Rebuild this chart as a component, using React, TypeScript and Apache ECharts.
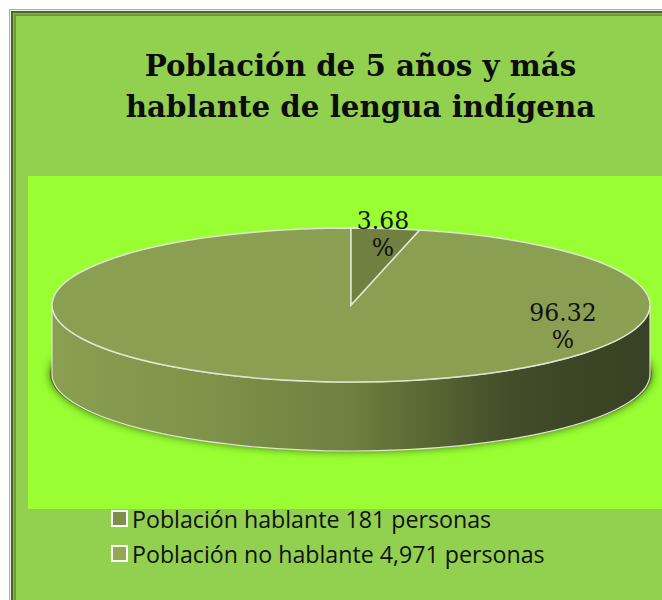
import React, { useEffect, useRef } from "react";
import * as echarts from "echarts";

const titleText = "Población de 5 años y más\nhablante de lengua indígena";
const sliceNames = ["Población hablante 181 personas", "Población no hablante 4,971 personas"];
const sliceValues = [3.68, 96.32];
const sliceColors = ["#6f8040", "#8a9f52"];
const legendColors = ["#7f8f48", "#94a854"];

const CX = 351;
const CY = 305;
const RX = 299;
const RY = 77;
const DEPTH = 69;
const EDGE = "#dfe5d2";
const total = sliceValues[0] + sliceValues[1];

const pt = (share: number, dy = 0) => {
  const a = (share / total) * Math.PI * 2;
  return [CX + RX * Math.sin(a), CY + dy - RY * Math.cos(a)];
};

const slicePath = (from: number, to: number) => {
  const [x0, y0] = pt(from);
  const [x1, y1] = pt(to);
  const large = (to - from) / total > 0.5 ? 1 : 0;
  return `M${CX} ${CY}L${x0} ${y0}A${RX} ${RY} 0 ${large} 1 ${x1} ${y1}Z`;
};

const sliceSeries = (i: number, from: number, labelX: number, labelY: number) => ({
  type: "custom",
  name: sliceNames[i],
  coordinateSystem: "none",
  z: 5,
  itemStyle: { color: legendColors[i], borderColor: "#ffffff", borderWidth: 1.5 },
  data: [[sliceValues[i]]],
  silent: true,
  renderItem: (_p: any, api: any) => {
    const v = api.value(0) as number;
    return {
      type: "group",
      children: [
        {
          type: "path",
          shape: { pathData: slicePath(from, from + v) },
          style: { fill: sliceColors[i], stroke: EDGE, lineWidth: 1.5 },
        },
        {
          type: "text",
          z2: 10,
          style: {
            x: labelX,
            y: labelY,
            text: `${v.toFixed(2)}\n%`,
            font: '23.5px "DejaVu Serif"',
            lineHeight: 27,
            fill: "#111111",
            align: "center",
            verticalAlign: "middle",
          },
        },
      ],
    };
  },
});

export default function App() {
  const ref = useRef<HTMLDivElement>(null);
  useEffect(() => {
    const chart = echarts.init(ref.current!, undefined, { renderer: "svg" });
    const frameRect = (v: number, fill: string) => ({
      type: "rect",
      shape: { x: v, y: v, width: 662 - v, height: 600 - v },
      style: { fill },
    });
    chart.setOption({
      animation: false,
      backgroundColor: "#ffffff",
      title: {
        text: titleText,
        left: 355.5,
        top: 40,
        textAlign: "center",
        textStyle: {
          fontFamily: "DejaVu Serif",
          fontWeight: "bold",
          fontSize: 29.3,
          lineHeight: 41,
          color: "#0d0d0d",
        },
      },
      legend: {
        data: sliceNames,
        orient: "vertical",
        left: 106,
        top: 502,
        itemWidth: 15,
        itemHeight: 15,
        itemGap: 12,
        icon: "rect",
        selectedMode: false,
        textStyle: { fontFamily: "Open Sans", fontSize: 23.2, color: "#111111", padding: [0, 0, 0, 0] },
      },
      graphic: [
        frameRect(9, "#a9b09c"),
        frameRect(10, "#eef0e8"),
        frameRect(11, "#4c6426"),
        frameRect(13, "#8fb060"),
        frameRect(14, "#6f9a3c"),
        frameRect(16, "#92D050"),
        {
          type: "rect",
          shape: { x: 28, y: 176, width: 634, height: 333 },
          style: { fill: "#99FF33" },
        },
      ],
      series: [
        {
          type: "custom",
          name: "cuerpo",
          coordinateSystem: "none",
          z: 3,
          silent: true,
          data: [[total]],
          renderItem: () => ({
            type: "group",
            children: [
              {
                type: "ellipse",
                shape: { cx: CX, cy: CY + DEPTH, rx: RX + 2, ry: RY },
                style: {
                  fill: "#4f7a18",
                  shadowBlur: 9,
                  shadowColor: "rgba(40,70,0,0.8)",
                },
              },
              {
                type: "path",
                shape: {
                  pathData: `M${CX - RX} ${CY}L${CX - RX} ${CY + DEPTH}A${RX} ${RY} 0 0 0 ${CX + RX} ${CY + DEPTH}L${CX + RX} ${CY}A${RX} ${RY} 0 0 1 ${CX - RX} ${CY}Z`,
                },
                style: {
                  fill: new echarts.graphic.LinearGradient(0, 0, 1, 0, [
                    { offset: 0, color: "#8a9f52" },
                    { offset: 0.25, color: "#7f9349" },
                    { offset: 0.5, color: "#6e803f" },
                    { offset: 0.75, color: "#454f2a" },
                    { offset: 0.85, color: "#3d4626" },
                    { offset: 1, color: "#394124" },
                  ]),
                  stroke: EDGE,
                  lineWidth: 1.2,
                },
              },
            ],
          }),
        },
        sliceSeries(1, sliceValues[0], 563, 326),
        sliceSeries(0, 0, 383, 234),
      ],
    });
    return () => chart.dispose();
  }, []);
  return <div ref={ref} style={{ position: "absolute", left: 0, top: 0, width: 662, height: 600 }} />;
}
